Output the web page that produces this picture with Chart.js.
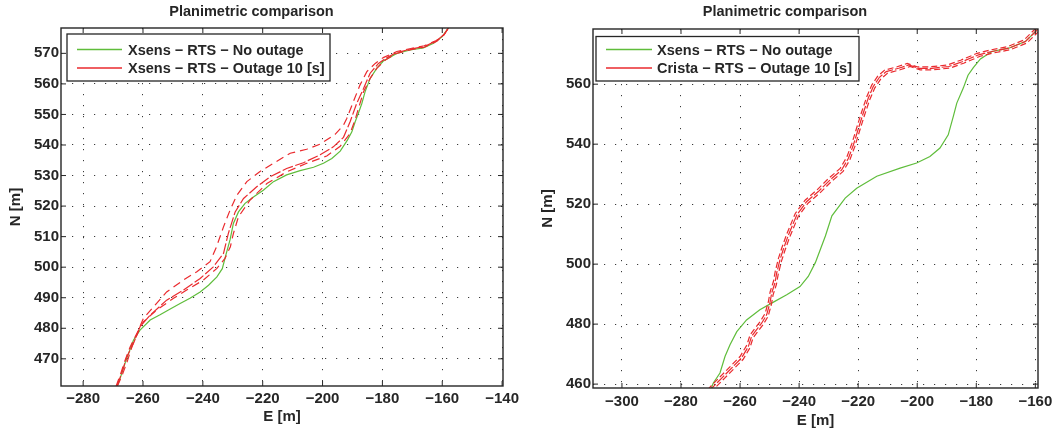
<!DOCTYPE html>
<html lang="en">
<head>
<meta charset="UTF-8">
<title>Planimetric comparison</title>
<script src="https://cdn.jsdelivr.net/npm/chart.js"></script>
<style>
    html, body { margin: 0; padding: 0; background: #fff; }
    .wrap { position: relative; width: 1064px; height: 432px; }
    .wrap canvas { position: absolute; top: 0; }
    #leftChart { left: 0; }
    #rightChart { left: 532px; }
</style>
</head>
<body>
<div class="wrap">
    <canvas id="leftChart" width="532" height="432"></canvas>
    <canvas id="rightChart" width="532" height="432"></canvas>
</div>
<script>
// ---- left plot: Xsens outage ----
const leftXTicks = [-280, -260, -240, -220, -200, -180, -160, -140];
const leftYTicks = [470, 480, 490, 500, 510, 520, 530, 540, 550, 560, 570];

const leftGreenE = [-268.6, -267.5, -266.0, -263.2, -261.0, -257.6, -254.3, -251.5, -247.6, -244.3, -240.9, -238.1, -235.3, -233.5, -232.3, -230.9, -229.8, -228.1, -225.9, -223.1, -219.8, -216.4, -212.0, -207.5, -203.0, -199.7, -196.9, -194.1, -191.7, -190.2, -189.1, -188.0, -186.9, -185.8, -184.1, -181.9, -179.7, -175.2, -170.7, -166.3, -162.9, -160.1, -157.6];
const leftGreenN = [461.0, 464.0, 468.6, 476.1, 479.4, 482.7, 484.4, 486.0, 488.1, 489.8, 491.9, 494.1, 496.8, 499.5, 504.0, 509.0, 514.3, 518.1, 520.9, 523.0, 525.2, 528.0, 530.2, 531.6, 532.7, 534.0, 535.6, 538.0, 541.6, 544.3, 547.6, 550.5, 553.5, 557.4, 561.8, 565.1, 567.5, 570.0, 571.1, 571.8, 573.3, 575.4, 578.8];

const leftRedE = [-268.8, -267.6, -266.4, -265.4, -263.2, -261.0, -257.6, -252.1, -246.5, -240.9, -236.5, -233.1, -231.5, -229.2, -226.4, -222.0, -217.5, -212.0, -206.4, -200.8, -196.4, -193.0, -190.8, -188.6, -186.3, -184.1, -181.3, -178.5, -175.2, -170.5, -166.0, -161.8, -159.3, -157.6];
const leftRedN = [461.0, 464.0, 467.5, 470.7, 475.0, 480.5, 484.3, 489.2, 492.5, 496.3, 500.1, 504.5, 511.0, 518.1, 522.5, 526.3, 529.6, 532.3, 534.2, 536.8, 539.4, 542.5, 547.6, 553.6, 558.5, 563.5, 566.7, 568.6, 570.3, 571.4, 572.2, 574.2, 576.3, 578.8];

// outer dashed bounds of the outage solution
const leftUpperE = [-269.0, -267.5, -266.0, -264.3, -261.5, -259.9, -256.5, -252.1, -246.5, -242.0, -237.6, -235.5, -233.1, -230.9, -228.6, -225.3, -220.9, -216.4, -210.8, -205.3, -200.8, -195.8, -193.0, -191.9, -189.7, -187.5, -185.2, -182.4, -179.7, -175.2, -170.5, -166.0, -162.0, -159.5, -157.6];
const leftUpperN = [461.0, 465.0, 469.5, 473.9, 479.4, 483.2, 487.0, 491.9, 495.8, 498.5, 501.8, 506.5, 513.2, 518.7, 523.6, 528.0, 531.3, 534.0, 537.3, 538.6, 540.3, 543.5, 546.5, 548.7, 554.2, 559.6, 564.0, 566.7, 568.6, 570.6, 571.6, 572.5, 574.2, 576.0, 578.8];
const leftLowerE = [-268.6, -267.0, -265.5, -263.5, -261.5, -259.9, -255.4, -249.8, -245.4, -239.8, -235.3, -232.6, -230.8, -229.8, -228.1, -224.2, -218.6, -212.0, -205.3, -198.6, -194.1, -190.8, -189.2, -188.0, -186.3, -184.1, -181.9, -179.0, -175.2, -170.5, -166.0, -161.8, -159.3, -157.6];
const leftLowerN = [461.0, 464.5, 468.5, 474.5, 479.0, 482.1, 486.0, 489.8, 492.5, 495.8, 499.6, 502.9, 506.7, 511.0, 516.5, 522.0, 527.4, 531.2, 534.0, 536.4, 539.6, 543.8, 548.0, 552.0, 557.4, 561.8, 565.1, 567.8, 570.0, 571.2, 572.0, 574.0, 576.2, 578.8];

// ---- right plot: Crista outage ----
const rightXTicks = [-300, -280, -260, -240, -220, -200, -180, -160];
const rightYTicks = [460, 480, 500, 520, 540, 560];

const rightGreenE = [-270.0, -269.1, -266.8, -265.1, -263.4, -261.1, -257.8, -253.3, -249.3, -244.2, -239.7, -236.9, -234.5, -231.1, -228.9, -224.4, -220.5, -213.7, -205.8, -200.2, -195.7, -192.3, -189.5, -187.8, -186.6, -184.4, -182.8, -181.0, -178.6, -174.7, -169.0, -163.4, -160.0, -158.5];
const rightGreenN = [458.0, 460.3, 463.7, 469.2, 473.1, 477.5, 481.4, 484.8, 487.0, 489.8, 492.5, 495.9, 500.5, 509.4, 516.1, 522.0, 525.3, 529.3, 532.0, 533.7, 535.9, 538.7, 543.1, 549.2, 553.7, 558.7, 563.0, 565.5, 568.4, 570.9, 572.0, 574.2, 577.5, 579.0];

const rightRedE = [-270.5, -269.6, -265.7, -262.3, -259.5, -257.2, -256.1, -254.9, -252.7, -251.0, -249.9, -249.3, -248.2, -247.6, -246.5, -245.4, -243.7, -240.8, -237.4, -233.5, -229.5, -225.6, -223.3, -221.6, -219.9, -218.3, -216.6, -214.9, -212.8, -210.5, -206.3, -202.9, -199.5, -195.0, -189.3, -184.8, -179.2, -174.7, -169.0, -163.4, -160.0, -158.5];
const rightRedN = [457.5, 458.6, 462.5, 465.9, 468.7, 472.5, 475.9, 477.5, 480.3, 483.1, 487.0, 490.3, 493.7, 497.0, 501.4, 504.8, 509.5, 516.4, 520.9, 524.2, 528.1, 531.4, 535.3, 539.8, 545.3, 550.3, 555.3, 559.2, 562.3, 564.2, 565.3, 566.4, 565.3, 565.3, 565.9, 567.5, 569.8, 570.9, 572.0, 574.2, 577.5, 579.0];

const rightUpperE = [-271.0, -270.1, -266.2, -262.8, -260.0, -257.7, -256.6, -255.4, -253.2, -251.5, -250.4, -249.8, -248.7, -248.1, -247.0, -245.9, -244.2, -241.3, -237.9, -234.0, -230.0, -226.1, -223.8, -222.1, -220.4, -218.8, -217.1, -215.4, -213.3, -211.0, -206.8, -203.4, -200.0, -195.5, -189.8, -185.3, -179.7, -175.2, -169.5, -163.9, -160.5, -159.0];
const rightUpperN = [458.0, 459.1, 463.0, 466.4, 469.2, 473.0, 476.4, 478.0, 480.8, 483.6, 487.5, 490.8, 494.2, 497.5, 501.9, 505.3, 510.0, 516.9, 521.4, 524.7, 528.6, 531.9, 535.8, 540.3, 545.8, 550.8, 555.8, 559.7, 562.8, 564.7, 565.8, 566.9, 565.8, 565.8, 566.4, 568.0, 570.3, 571.4, 572.5, 574.7, 578.0, 579.5];
const rightLowerE = [-270.0, -269.1, -265.2, -261.8, -259.0, -256.7, -255.6, -254.4, -252.2, -250.5, -249.4, -248.8, -247.7, -247.1, -246.0, -244.9, -243.2, -240.3, -236.9, -233.0, -229.0, -225.1, -222.8, -221.1, -219.4, -217.8, -216.1, -214.4, -212.3, -210.0, -205.8, -202.4, -199.0, -194.5, -188.8, -184.3, -178.7, -174.2, -168.5, -162.9, -159.5, -158.0];
const rightLowerN = [457.0, 458.1, 462.0, 465.4, 468.2, 472.0, 475.4, 477.0, 479.8, 482.6, 486.5, 489.8, 493.2, 496.5, 500.9, 504.3, 509.0, 515.9, 520.4, 523.7, 527.6, 530.9, 534.8, 539.3, 544.8, 549.8, 554.8, 558.7, 561.8, 563.7, 564.8, 565.9, 564.8, 564.8, 565.4, 567.0, 569.3, 570.4, 571.5, 573.7, 577.0, 578.5];

const chartTitle = 'Planimetric comparison';
const leftLabels = ['Xsens \u2212 RTS \u2212 No outage', 'Xsens \u2212 RTS \u2212 Outage 10 [s]'];
const rightLabels = ['Xsens \u2212 RTS \u2212 No outage', 'Crista \u2212 RTS \u2212 Outage 10 [s]'];

const GREEN = '#5fbd3b';
const RED = '#ea2a2e';
const INK = '#262626';
const FONT = "'Liberation Sans', Arial, Helvetica, sans-serif";

function track(E, N, label, color, dash, order, inLegend) {
    return {
        label: label,
        data: E.map((e, i) => ({ x: e, y: N[i] })),
        showLine: true,
        borderColor: color,
        borderWidth: 1.2,
        borderDash: dash,
        pointRadius: 0,
        fill: false,
        tension: 0,
        order: order,
        inLegend: inLegend
    };
}

// box around the axes plus inward ticks on every side (matlab style)
const frameBox = {
    id: 'frameBox',
    afterDraw(chart) {
        const { ctx, chartArea: a, scales } = chart;
        ctx.save();
        ctx.strokeStyle = INK;
        ctx.lineWidth = 1.4;
        ctx.strokeRect(a.left, a.top, a.right - a.left, a.bottom - a.top);
        ctx.lineWidth = 1;
        ctx.beginPath();
        scales.x.ticks.forEach(t => {
            const px = scales.x.getPixelForValue(t.value);
            ctx.moveTo(px, a.bottom); ctx.lineTo(px, a.bottom - 5);
            ctx.moveTo(px, a.top); ctx.lineTo(px, a.top + 5);
        });
        scales.y.ticks.forEach(t => {
            const py = scales.y.getPixelForValue(t.value);
            ctx.moveTo(a.left, py); ctx.lineTo(a.left + 5, py);
            ctx.moveTo(a.right, py); ctx.lineTo(a.right - 5, py);
        });
        ctx.stroke();
        ctx.restore();
    }
};

const boxLegend = {
    id: 'boxLegend',
    afterDraw(chart, args, o) {
        const ctx = chart.ctx;
        const items = chart.data.datasets.filter(d => d.inLegend);
        ctx.save();
        ctx.fillStyle = '#fff';
        ctx.fillRect(o.x, o.y, o.w, o.h);
        ctx.strokeStyle = INK;
        ctx.lineWidth = 1.3;
        ctx.strokeRect(o.x, o.y, o.w, o.h);
        ctx.font = 'bold 14.5px ' + FONT;
        ctx.textBaseline = 'middle';
        items.forEach((d, i) => {
            const y = o.rows[i];
            ctx.strokeStyle = d.borderColor;
            ctx.lineWidth = 1.3;
            ctx.beginPath();
            ctx.moveTo(o.lineX1, y);
            ctx.lineTo(o.lineX2, y);
            ctx.stroke();
            ctx.fillStyle = INK;
            ctx.fillText(d.label, o.textX, y + 1);
        });
        ctx.restore();
    }
};

const minus = v => String(v).replace('-', '\u2212');
const fixedTicks = list => scale => { scale.ticks = list.map(v => ({ value: v })); };

function buildChart(id, c) {
    return new Chart(document.getElementById(id), {
        type: 'scatter',
        data: { datasets: c.datasets },
        options: {
            responsive: false,
            animation: false,
            devicePixelRatio: 1,
            layout: { padding: { left: 0, top: 0, right: c.padRight, bottom: 0 } },
            plugins: {
                legend: { display: false },
                tooltip: { enabled: false },
                title: {
                    display: true,
                    text: chartTitle,
                    color: INK,
                    font: { family: FONT, size: 14.5, weight: 'bold' },
                    padding: { top: 3, bottom: c.titleGap }
                },
                boxLegend: c.legend
            },
            scales: {
                x: {
                    type: 'linear',
                    min: c.xMin,
                    max: c.xMax,
                    afterBuildTicks: fixedTicks(c.xTicks),
                    afterFit: s => { s.height = c.xHeight; },
                    ticks: {
                        autoSkip: false,
                        maxRotation: 0,
                        padding: c.xPad,
                        color: INK,
                        font: { family: FONT, size: 15, weight: 'bold' },
                        callback: minus
                    },
                    grid: { color: '#3a3a3a', lineWidth: 1, drawTicks: false },
                    border: { display: false, dash: [1.2, 9.8] },
                    title: {
                        display: true,
                        text: 'E [m]',
                        color: INK,
                        font: { family: FONT, size: 15, weight: 'bold' },
                        padding: { top: 0, bottom: c.xTitlePad }
                    }
                },
                y: {
                    type: 'linear',
                    min: c.yMin,
                    max: c.yMax,
                    afterBuildTicks: fixedTicks(c.yTicks),
                    afterFit: s => { s.width = 61; },
                    ticks: {
                        autoSkip: false,
                        padding: 2,
                        color: INK,
                        font: { family: FONT, size: 15, weight: 'bold' },
                        callback: minus
                    },
                    grid: { color: '#3a3a3a', lineWidth: 1, drawTicks: false },
                    border: { display: false, dash: [1.2, 9.8] },
                    title: {
                        display: true,
                        text: 'N [m]',
                        color: INK,
                        font: { family: FONT, size: 15, weight: 'bold' },
                        padding: { top: 7, bottom: 0 }
                    }
                }
            }
        },
        plugins: [frameBox, boxLegend]
    });
}

buildChart('leftChart', {
    datasets: [
        track(leftGreenE, leftGreenN, leftLabels[0], GREEN, [], 2, true),
        track(leftRedE, leftRedN, leftLabels[1], RED, [11, 2.5], 1, true),
        track(leftUpperE, leftUpperN, '', RED, [8, 5], 1, false),
        track(leftLowerE, leftLowerN, '', RED, [8, 5], 1, false)
    ],
    xMin: -287.4, xMax: -139.7, xTicks: leftXTicks,
    yMin: 461.1, yMax: 578.3, yTicks: leftYTicks,
    padRight: 29, titleGap: 7.6, xHeight: 46, xPad: 4, xTitlePad: 6,
    legend: { x: 67, y: 34, w: 263, h: 47, rows: [49.5, 68], lineX1: 77, lineX2: 122, textX: 128 }
});

buildChart('rightChart', {
    datasets: [
        track(rightGreenE, rightGreenN, rightLabels[0], GREEN, [], 2, true),
        track(rightRedE, rightRedN, rightLabels[1], RED, [10, 2], 1, true),
        track(rightUpperE, rightUpperN, '', RED, [6, 3], 1, false),
        track(rightLowerE, rightLowerN, '', RED, [6, 3], 1, false)
    ],
    xMin: -309.8, xMax: -159.1, xTicks: rightXTicks,
    yMin: 458.7, yMax: 578.4, yTicks: rightYTicks,
    padRight: 26, titleGap: 8.6, xHeight: 44, xPad: 5, xTitlePad: 2,
    legend: { x: 64, y: 36.5, w: 263, h: 44.5, rows: [49.5, 68], lineX1: 74, lineX2: 120, textX: 125 }
});
</script>
</body>
</html>
